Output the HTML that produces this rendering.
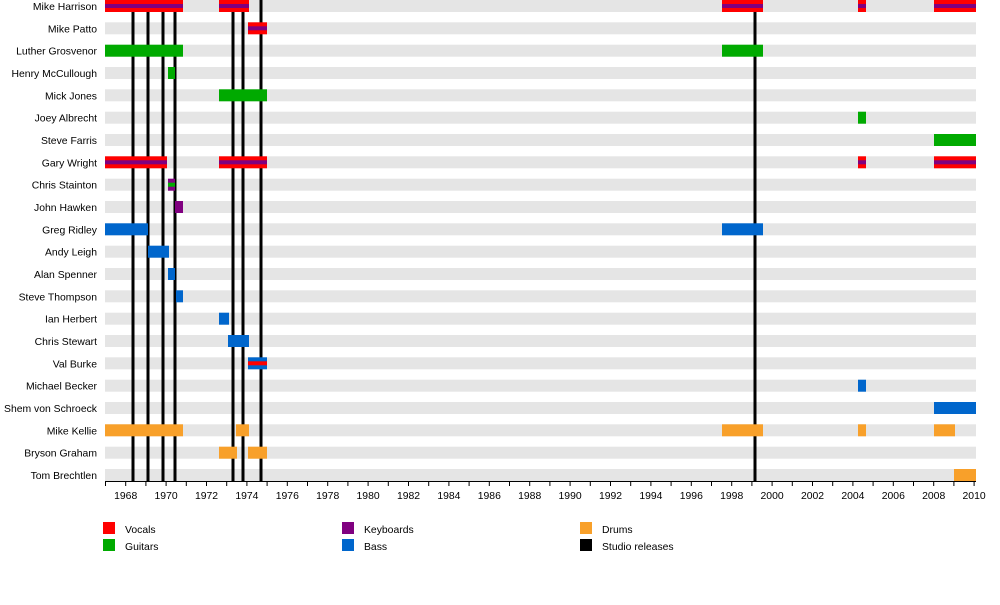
<!DOCTYPE html>
<html><head><meta charset="utf-8"><style>
body{margin:0;background:#fff;}
svg text{font-family:"Liberation Sans",sans-serif;font-size:10.4px;fill:#000;}
</style></head><body>
<svg width="1000" height="600" xmlns="http://www.w3.org/2000/svg">
<g fill="#e5e5e5">
<rect x="105" y="0" width="871" height="12"/><rect x="105" y="22.3" width="871" height="12"/><rect x="105" y="44.7" width="871" height="12"/><rect x="105" y="67" width="871" height="12"/><rect x="105" y="89.3" width="871" height="12"/><rect x="105" y="111.7" width="871" height="12"/><rect x="105" y="134" width="871" height="12"/><rect x="105" y="156.3" width="871" height="12"/><rect x="105" y="178.7" width="871" height="12"/><rect x="105" y="201" width="871" height="12"/><rect x="105" y="223.3" width="871" height="12"/><rect x="105" y="245.7" width="871" height="12"/><rect x="105" y="268" width="871" height="12"/><rect x="105" y="290.3" width="871" height="12"/><rect x="105" y="312.7" width="871" height="12"/><rect x="105" y="335" width="871" height="12"/><rect x="105" y="357.3" width="871" height="12"/><rect x="105" y="379.7" width="871" height="12"/><rect x="105" y="402" width="871" height="12"/><rect x="105" y="424.3" width="871" height="12"/><rect x="105" y="446.7" width="871" height="12"/><rect x="105" y="469" width="871" height="12"/>
</g>
<g fill="#000">
<rect x="131.5" y="0" width="3" height="481"/><rect x="146.5" y="0" width="3" height="481"/><rect x="161.5" y="0" width="3" height="481"/><rect x="173.5" y="0" width="3" height="481"/><rect x="231.5" y="0" width="3" height="481"/><rect x="241.5" y="0" width="3" height="481"/><rect x="259.5" y="0" width="3" height="481"/><rect x="753.5" y="0" width="3" height="481"/>
</g>
<g fill="#ff0000"><rect x="105" y="0" width="78" height="12"/><rect x="219" y="0" width="30" height="12"/><rect x="722" y="0" width="41" height="12"/><rect x="858" y="0" width="8" height="12"/><rect x="934" y="0" width="42" height="12"/>
<rect x="248" y="22.3" width="19" height="12"/>
<rect x="105" y="156.3" width="62" height="12"/><rect x="219" y="156.3" width="48" height="12"/><rect x="858" y="156.3" width="8" height="12"/><rect x="934" y="156.3" width="42" height="12"/></g>
<g fill="#800080"><rect x="105" y="4" width="78" height="4"/><rect x="219" y="4" width="30" height="4"/><rect x="722" y="4" width="41" height="4"/><rect x="858" y="4" width="8" height="4"/><rect x="934" y="4" width="42" height="4"/>
<rect x="248" y="26.3" width="19" height="4"/>
<rect x="105" y="160.3" width="62" height="4"/><rect x="219" y="160.3" width="48" height="4"/><rect x="858" y="160.3" width="8" height="4"/><rect x="934" y="160.3" width="42" height="4"/>
<rect x="168" y="178.7" width="7" height="12"/><rect x="175" y="201" width="8" height="12"/></g>
<g fill="#00aa00"><rect x="105" y="44.7" width="78" height="12"/><rect x="722" y="44.7" width="41" height="12"/>
<rect x="168" y="67" width="7" height="12"/><rect x="219" y="89.3" width="48" height="12"/><rect x="858" y="111.7" width="8" height="12"/><rect x="934" y="134" width="42" height="12"/>
<rect x="168" y="182.7" width="7" height="4"/></g>
<g fill="#0066cc"><rect x="105" y="223.3" width="43" height="12"/><rect x="722" y="223.3" width="41" height="12"/>
<rect x="148" y="245.7" width="21" height="12"/><rect x="168" y="268" width="7" height="12"/><rect x="176" y="290.3" width="7" height="12"/><rect x="219" y="312.7" width="10" height="12"/><rect x="228" y="335" width="21" height="12"/><rect x="248" y="357.3" width="19" height="12"/><rect x="858" y="379.7" width="8" height="12"/><rect x="934" y="402" width="42" height="12"/></g>
<rect x="248" y="361.3" width="19" height="4" fill="#ff0000"/>
<g fill="#f8a02a"><rect x="105" y="424.3" width="78" height="12"/><rect x="236" y="424.3" width="13" height="12"/><rect x="722" y="424.3" width="41" height="12"/><rect x="858" y="424.3" width="8" height="12"/><rect x="934" y="424.3" width="21" height="12"/>
<rect x="219" y="446.7" width="18" height="12"/><rect x="248" y="446.7" width="19" height="12"/><rect x="954" y="469" width="22" height="12"/></g>
<g text-anchor="end">
<text x="97" y="10">Mike Harrison</text><text x="97" y="32.3">Mike Patto</text><text x="97" y="54.7">Luther Grosvenor</text><text x="97" y="77">Henry McCullough</text><text x="97" y="99.3">Mick Jones</text><text x="97" y="121.7">Joey Albrecht</text><text x="97" y="144">Steve Farris</text><text x="97" y="166.3">Gary Wright</text><text x="97" y="188.7">Chris Stainton</text><text x="97" y="211">John Hawken</text><text x="97" y="233.3">Greg Ridley</text><text x="97" y="255.7">Andy Leigh</text><text x="97" y="278">Alan Spenner</text><text x="97" y="300.3">Steve Thompson</text><text x="97" y="322.7">Ian Herbert</text><text x="97" y="345">Chris Stewart</text><text x="97" y="367.3">Val Burke</text><text x="97" y="389.7">Michael Becker</text><text x="97" y="412">Shem von Schroeck</text><text x="97" y="434.3">Mike Kellie</text><text x="97" y="456.7">Bryson Graham</text><text x="97" y="479">Tom Brechtlen</text>
</g>
<line x1="105" y1="481.5" x2="976" y2="481.5" stroke="#000" stroke-width="1"/>
<path stroke="#000" stroke-width="1" d="M105.5 481v5M125.7 481v5M145.9 481v5M166.1 481v5M186.3 481v5M206.5 481v5M226.7 481v5M246.9 481v5M267.1 481v5M287.3 481v5M307.5 481v5M327.7 481v5M347.9 481v5M368.1 481v5M388.3 481v5M408.5 481v5M428.7 481v5M448.9 481v5M469.1 481v5M489.3 481v5M509.5 481v5M529.7 481v5M549.9 481v5M570.1 481v5M590.3 481v5M610.5 481v5M630.7 481v5M650.9 481v5M671.1 481v5M691.3 481v5M711.5 481v5M731.7 481v5M751.9 481v5M772.1 481v5M792.3 481v5M812.5 481v5M832.7 481v5M852.9 481v5M873.1 481v5M893.3 481v5M913.5 481v5M933.7 481v5M953.9 481v5M974.1 481v5"/>
<g text-anchor="middle">
<text x="125.7" y="499">1968</text><text x="166.1" y="499">1970</text><text x="206.5" y="499">1972</text><text x="246.9" y="499">1974</text><text x="287.3" y="499">1976</text><text x="327.7" y="499">1978</text><text x="368.1" y="499">1980</text><text x="408.5" y="499">1982</text><text x="448.9" y="499">1984</text><text x="489.3" y="499">1986</text><text x="529.7" y="499">1988</text><text x="570.1" y="499">1990</text><text x="610.5" y="499">1992</text><text x="650.9" y="499">1994</text><text x="691.3" y="499">1996</text><text x="731.7" y="499">1998</text><text x="772.1" y="499">2000</text><text x="812.5" y="499">2002</text><text x="852.9" y="499">2004</text><text x="893.3" y="499">2006</text><text x="933.7" y="499">2008</text><text x="974.1" y="499">2010</text>
</g>
<rect x="103" y="522" width="12" height="12" fill="#ff0000"/><text x="125" y="533">Vocals</text>
<rect x="103" y="539" width="12" height="12" fill="#00aa00"/><text x="125" y="550">Guitars</text>
<rect x="342" y="522" width="12" height="12" fill="#800080"/><text x="364" y="533">Keyboards</text>
<rect x="342" y="539" width="12" height="12" fill="#0066cc"/><text x="364" y="550">Bass</text>
<rect x="580" y="522" width="12" height="12" fill="#f8a02a"/><text x="602" y="533">Drums</text>
<rect x="580" y="539" width="12" height="12" fill="#000"/><text x="602" y="550">Studio releases</text>
</svg>
</body></html>
